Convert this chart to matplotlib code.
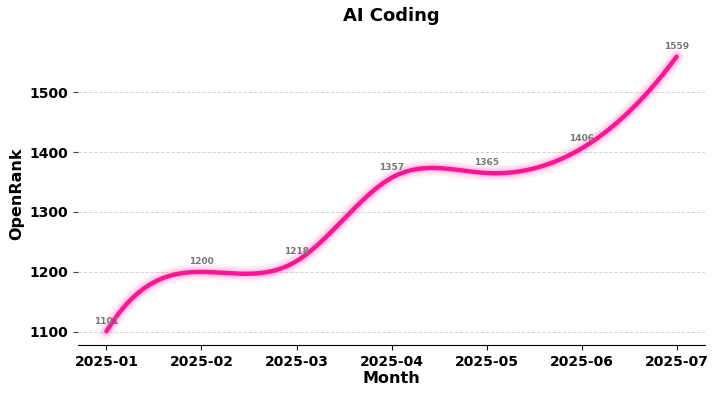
import numpy as np
import matplotlib
matplotlib.use("Agg")
import matplotlib.pyplot as plt

months = ["2025-01", "2025-02", "2025-03", "2025-04",
          "2025-05", "2025-06", "2025-07"]
values = [1101, 1200, 1218, 1357, 1365, 1406, 1559]
title = "AI Coding"
xlabel = "Month"
ylabel = "OpenRank"

x = np.arange(len(months), dtype=float)
y = np.array(values, dtype=float)


def notaknot_spline(x, y, xs):
    n = len(x)
    h = np.diff(x)
    A = np.zeros((n, n))
    b = np.zeros(n)
    A[0, 0] = h[1]; A[0, 1] = -(h[0] + h[1]); A[0, 2] = h[0]
    for i in range(1, n - 1):
        A[i, i - 1] = h[i - 1]
        A[i, i] = 2 * (h[i - 1] + h[i])
        A[i, i + 1] = h[i]
        b[i] = 6 * ((y[i + 1] - y[i]) / h[i] - (y[i] - y[i - 1]) / h[i - 1])
    A[n - 1, n - 3] = h[n - 2]; A[n - 1, n - 2] = -(h[n - 3] + h[n - 2]); A[n - 1, n - 1] = h[n - 3]
    M = np.linalg.solve(A, b)
    idx = np.clip(np.searchsorted(x, xs) - 1, 0, n - 2)
    x0 = x[idx]; x1 = x[idx + 1]; hh = h[idx]
    y0 = y[idx]; y1 = y[idx + 1]; m0 = M[idx]; m1 = M[idx + 1]
    return (m0 * (x1 - xs) ** 3 / (6 * hh) + m1 * (xs - x0) ** 3 / (6 * hh)
            + (y0 / hh - m0 * hh / 6) * (x1 - xs) + (y1 / hh - m1 * hh / 6) * (xs - x0))


xs = np.linspace(x[0], x[-1], 400)
ys = notaknot_spline(x, y, xs)

fig = plt.figure(figsize=(7.18, 3.96), dpi=100)
ax = fig.add_axes([0.1086, 0.1288, 0.8734, 0.7627])

color = "#FF1493"
for w, a in [(12, 0.035), (10, 0.045), (8, 0.06), (6, 0.09)]:
    ax.plot(xs, ys, color=color, linewidth=w, alpha=a, solid_capstyle="round")
ax.plot(xs, ys, color=color, linewidth=3.2, solid_capstyle="round")

for xi, yi in zip(x, values):
    ax.annotate(str(yi), (xi, yi), xytext=(0, 4), textcoords="offset points",
                ha="center", va="bottom", fontsize=6.5, fontweight="bold",
                color="#777777")

ax.set_xticks(x)
ax.set_xticklabels(months)
ax.set_yticks([1100, 1200, 1300, 1400, 1500])
ax.grid(axis="y", linestyle="--", color="#cccccc", linewidth=0.7, alpha=0.8)
ax.set_axisbelow(True)
for s in ["top", "right", "left"]:
    ax.spines[s].set_visible(False)
ax.tick_params(axis="y", colors="black", length=3.5, labelsize=10, color="#444444")
ax.tick_params(axis="x", length=3.5, labelsize=10)
for lbl in ax.get_xticklabels() + ax.get_yticklabels():
    lbl.set_fontweight("bold")
ax.set_xlabel(xlabel, fontsize=11.5, fontweight="bold", labelpad=2)
ax.set_ylabel(ylabel, fontsize=11.5, fontweight="bold")
ax.set_title(title, fontsize=13, fontweight="bold", pad=16)

fig.savefig("out.png", dpi=100)
